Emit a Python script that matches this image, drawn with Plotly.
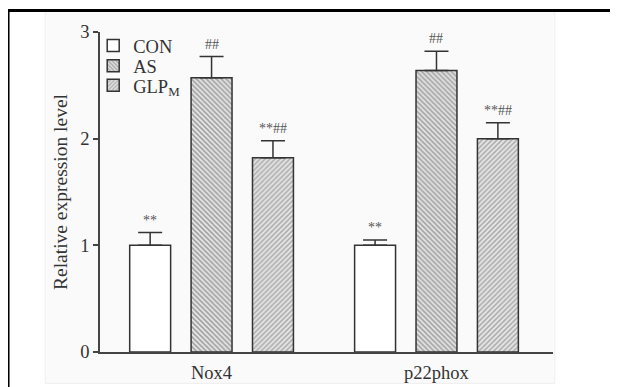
import plotly.graph_objects as go

categories = ["Nox4", "p22phox"]
series_names = ["CON", "AS", "GLP<sub>M</sub>"]
con_vals = [1.00, 1.00]
con_err = [0.12, 0.05]
as_vals = [2.57, 2.64]
as_err = [0.20, 0.18]
glp_vals = [1.82, 2.00]
glp_err = [0.16, 0.15]
con_marks = ["**", "**"]
as_marks = ["##", "##"]
glp_marks = ["**##", "**##"]

values = [con_vals, as_vals, glp_vals]
errors = [con_err, as_err, glp_err]
marks = [con_marks, as_marks, glp_marks]
offsets = [-0.273, 0.0, 0.273]
patterns = ["", "\\", "/"]
pattern_fg = ["#ffffff", "#5a5a5a", "#707070"]
legend_ids = ["legend", "legend2", "legend3"]
legend_rows = [0.956, 0.893, 0.832]

SERIF = "Liberation Serif, Times New Roman, serif"
EDGE = "#333333"
FS = 18.5

fig = go.Figure()
for name, vals, errs, off, pat, fg, lg in zip(series_names, values, errors, offsets,
                                              patterns, pattern_fg, legend_ids):
    xs = [i + off for i in range(len(categories))]
    marker = dict(color="white", line=dict(color=EDGE, width=1.5))
    if pat:
        marker["pattern"] = dict(shape=pat, fgcolor=fg, bgcolor="#e6e6e6",
                                 size=3.5, solidity=0.45)
    fig.add_trace(go.Bar(
        x=xs, y=vals, width=0.182, name=name, marker=marker, legend=lg,
        error_y=dict(type="data", array=errs, arrayminus=[0] * len(errs),
                     symmetric=False, color=EDGE, thickness=1.5, width=12),
    ))

for vals, errs, mk, off in zip(values, errors, marks, offsets):
    for i, (v, e, t) in enumerate(zip(vals, errs, mk)):
        fig.add_annotation(x=i + off, y=v + e, text=t, showarrow=False,
                           yanchor="bottom", yshift=3,
                           font=dict(family=SERIF, size=14, color="#555555"))

# background panel and frame
fig.add_shape(type="rect", xref="paper", yref="paper", x0=-0.121, x1=1.004,
              y0=-0.098, y1=1.064, fillcolor="#fafafa",
              line=dict(color="#eeeeee", width=1), layer="below")
fig.add_shape(type="line", xref="paper", yref="paper", x0=-0.203, x1=1.2,
              y0=1.067, y1=1.067, line=dict(color="black", width=3))
fig.add_shape(type="line", xref="paper", yref="paper", x0=-0.203, x1=-0.203,
              y0=1.067, y1=-0.15, line=dict(color="black", width=3))

legend_common = dict(xanchor="left", yanchor="middle", bgcolor="rgba(0,0,0,0)",
                     itemwidth=30, font=dict(family=SERIF, size=FS, color="#333333"))
layout_legends = {}
for lg, yrow in zip(legend_ids, legend_rows):
    layout_legends[lg] = dict(x=-0.015, y=yrow, **legend_common)

fig.update_layout(
    width=618, height=387,
    margin=dict(l=92, r=73, t=24, b=38),
    paper_bgcolor="white", plot_bgcolor="rgba(0,0,0,0)",
    barmode="overlay",
    showlegend=True,
    font=dict(family=SERIF, color="#333333"),
    **layout_legends,
)
fig.update_xaxes(range=[-0.496, 1.518], tickvals=list(range(len(categories))),
                 ticktext=categories, showgrid=False, zeroline=False,
                 showline=True, linecolor="#444444", linewidth=1.5, ticks="",
                 ticklabelstandoff=3,
                 tickfont=dict(family=SERIF, size=FS, color="#333333"))
fig.update_yaxes(range=[0, 3], tickvals=[0, 1, 2, 3], showgrid=False,
                 zeroline=False, showline=True, linecolor="#444444", linewidth=1.5,
                 ticks="outside", ticklen=5, tickcolor="#444444", tickwidth=1.5,
                 tickfont=dict(family=SERIF, size=FS, color="#333333"),
                 title=dict(text="Relative expression level", standoff=7,
                            font=dict(family=SERIF, size=19.5, color="#333333")))

fig.write_html("out.html")
